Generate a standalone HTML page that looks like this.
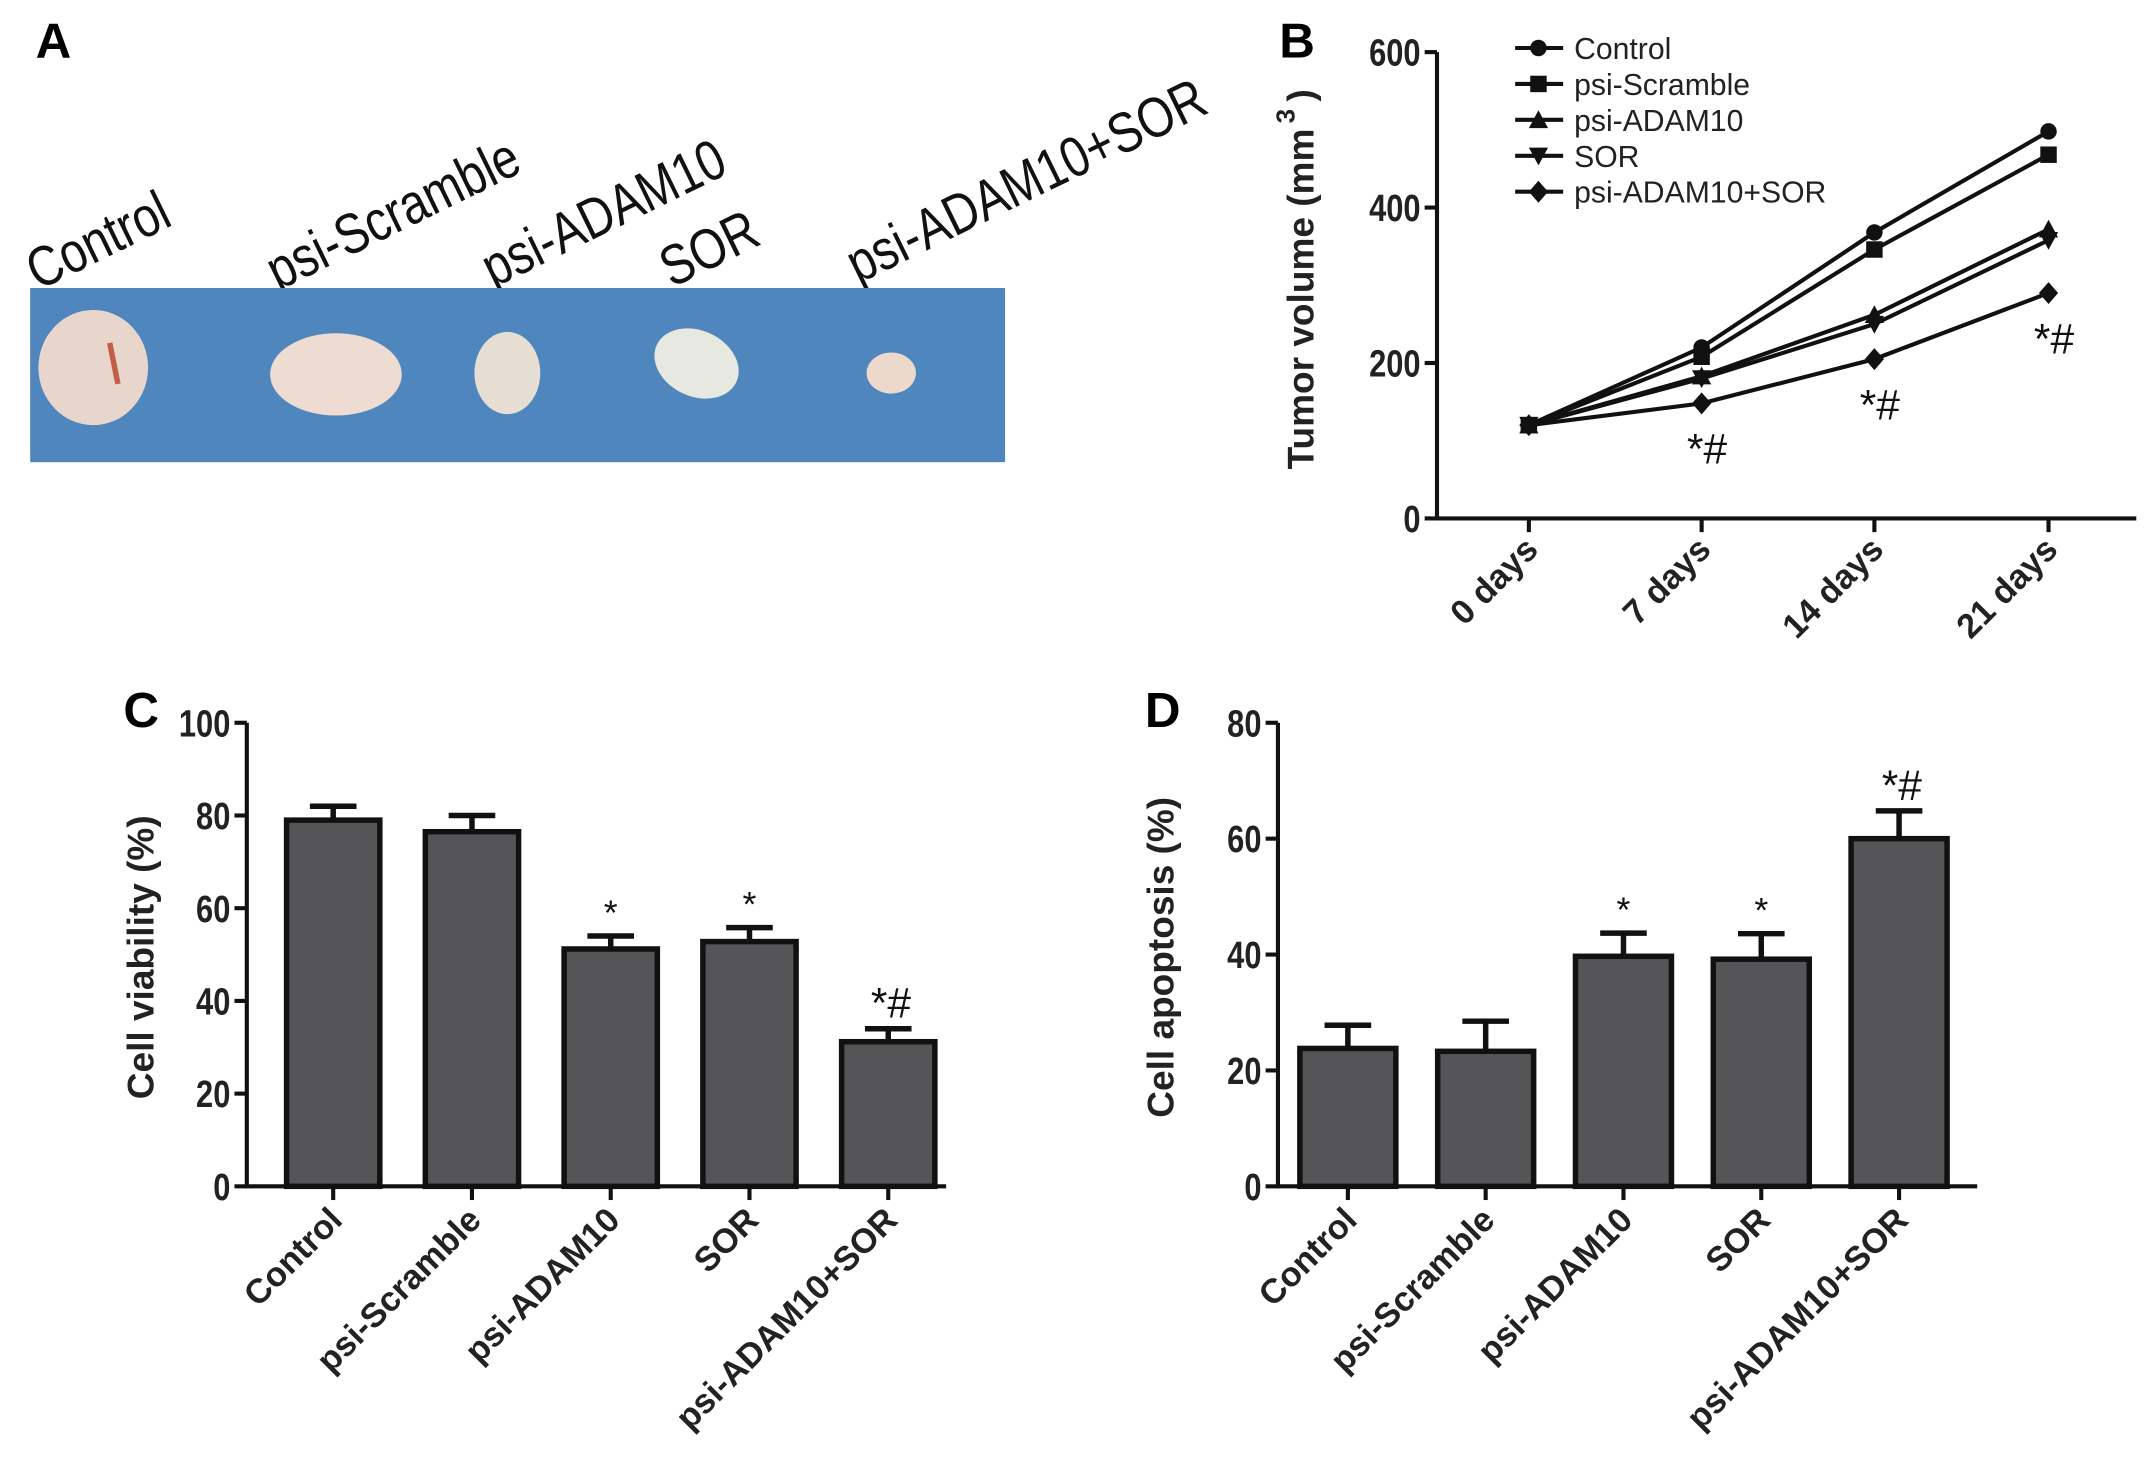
<!DOCTYPE html>
<html><head><meta charset="utf-8">
<style>
html,body{margin:0;padding:0;background:#fff;}
svg{display:block;font-family:"Liberation Sans",Arial,sans-serif;}
</style></head>
<body>
<svg id="fig" width="2150" height="1462" viewBox="0 0 1568 1066" preserveAspectRatio="none" xmlns="http://www.w3.org/2000/svg">
  <g>
    <text x="26" y="42" font-size="36" font-weight="bold">A</text>
    <g font-size="36" fill="#111">
      <text transform="translate(28,212) rotate(-26) scale(0.95,1.15)">Control</text>
      <text transform="translate(203,212) rotate(-26) scale(0.95,1.15)">psi-Scramble</text>
      <text transform="translate(360,210) rotate(-26) scale(0.95,1.15)">psi-ADAM10</text>
      <text transform="translate(490,210) rotate(-26) scale(0.95,1.15)">SOR</text>
      <text transform="translate(626,207) rotate(-26) scale(0.95,1.15)">psi-ADAM10+SOR</text>
    </g>
    <g>
      <rect x="22" y="210" width="711" height="127" fill="#4f86bd"/>
      <ellipse cx="68" cy="268" rx="40" ry="42" fill="#e8d6cc"/>
      <path d="M80 250 L86 280" stroke="#c0604a" stroke-width="4"/>
      <ellipse cx="245" cy="273" rx="48" ry="30" fill="#eedcd2"/>
      <ellipse cx="370" cy="272" rx="24" ry="30" fill="#e6ddd3"/>
      <ellipse cx="508" cy="265" rx="32" ry="24" transform="rotate(25 508 265)" fill="#e7e8e0"/>
      <ellipse cx="650" cy="272" rx="18" ry="15" fill="#ecd9cc"/>
    </g>
  </g>
  <g id="panelB"></g>
  <g id="panelC"></g>
  <g id="panelD"></g>
</svg>
<script>
// ---- Panel B data ----
const bDays = ["0 days","7 days","14 days","21 days"];
const bTicks = [0,200,400,600];
const bControl = [120,220,368,498];
const bScramble = [120,208,346,468];
const bAdam10 = [120,183,262,372];
const bSor = [120,180,250,358];
const bCombo = [120,148,205,290];
const bSeriesNames = ["Control","psi-Scramble","psi-ADAM10","SOR","psi-ADAM10+SOR"];
// ---- Panel C data ----
const cGroups = ["Control","psi-Scramble","psi-ADAM10","SOR","psi-ADAM10+SOR"];
const cValues = [79,76.5,51.2,52.8,31.2];
const cErrors = [3,3.5,2.8,3,2.8];
const cMarks = ["","","*","*","*#"];
const cTicks = [0,20,40,60,80,100];
// ---- Panel D data ----
const dGroups = ["Control","psi-Scramble","psi-ADAM10","SOR","psi-ADAM10+SOR"];
const dValues = [23.8,23.3,39.7,39.2,60];
const dErrors = [4,5.2,4,4.4,4.8];
const dMarks = ["","","*","*","*#"];
const dTicks = [0,20,40,60,80];

const NS="http://www.w3.org/2000/svg";
function mk(parent,tag,attrs,text){const e=document.createElementNS(NS,tag);for(const k in attrs)e.setAttribute(k,attrs[k]);if(text!==undefined)e.textContent=text;parent.appendChild(e);return e;}

(function(){
  const g=document.getElementById('panelB');
  const x0=1048,x1=1558,yTop=38,yBot=378,max=600;
  const xs=[1115,1241,1367,1494];
  const X=i=>xs[i]; const Y=v=>yBot-(v/max)*(yBot-yTop);
  let t=mk(g,'text',{x:933,y:42,'font-size':36,'font-weight':'bold'},'B');
  
  
  let ax=mk(g,'path',{d:`M${x0} ${yTop} V${yBot} H${x1}`,stroke:'#111','stroke-width':3,fill:'none'});
  
  
  bTicks.forEach(v=>{
    mk(g,'line',{x1:x0-9,x2:x0,y1:Y(v),y2:Y(v),stroke:'#111','stroke-width':3});
    const tl=mk(g,'text',{x:x0-12,y:Y(v)+9,'font-size':25,'font-weight':'bold','text-anchor':'end',fill:'#222',transform:`translate(${x0-12},${Y(v)}) scale(0.9,1.1) translate(${-(x0-12)},${-Y(v)})`},v);
    
    
  });
  bDays.forEach((d,i)=>{
    mk(g,'line',{x1:X(i),x2:X(i),y1:yBot,y2:yBot+10,stroke:'#111','stroke-width':3});
    const tl=mk(g,'text',{transform:`translate(${X(i)+8},${yBot+24}) rotate(-45)`,'font-size':25,'font-weight':'bold','text-anchor':'end',fill:'#222'},d);
    
    
  });
  const yl=mk(g,'text',{transform:'translate(958,218) rotate(-90)','font-size':27,'font-weight':'bold','text-anchor':'middle',fill:'#222'},'Tumor volume (mm ');
  
  
  const ys=mk(g,'text',{transform:'translate(944,90) rotate(-90)','font-size':19,'font-weight':'bold',fill:'#222'},'3');
  
  
  const yp=mk(g,'text',{transform:'translate(958,74) rotate(-90)','font-size':27,'font-weight':'bold',fill:'#222'},')');
  
  
  const series=[bControl,bScramble,bAdam10,bSor,bCombo];
  const shapes=['circle','square','tri','tridown','diamond'];
  function marker(p,shape,cx,cy,r){
    if(shape==='circle') return mk(p,'circle',{cx,cy,r:r,fill:'#111'});
    if(shape==='square') return mk(p,'rect',{x:cx-r,y:cy-r,width:2*r,height:2*r,fill:'#111'});
    if(shape==='tri') return mk(p,'path',{d:`M${cx} ${cy-r-1} L${cx+r+1} ${cy+r} L${cx-r-1} ${cy+r}Z`,fill:'#111'});
    if(shape==='tridown') return mk(p,'path',{d:`M${cx} ${cy+r+1} L${cx+r+1} ${cy-r} L${cx-r-1} ${cy-r}Z`,fill:'#111'});
    return mk(p,'path',{d:`M${cx} ${cy-r-2} L${cx+r+1} ${cy} L${cx} ${cy+r+2} L${cx-r-1} ${cy}Z`,fill:'#111'});
  }
  series.forEach((s,si)=>{
    const sg=mk(g,'g',{});
    
    
    mk(sg,'polyline',{points:s.map((v,i)=>X(i)+','+Y(v)).join(' '),fill:'none',stroke:'#111','stroke-width':3});
    s.forEach((v,i)=>{const m=marker(sg,shapes[si],X(i),Y(v),6);
      
      });
  });
  [1,2,3].forEach(i=>{
    const st=mk(g,'text',{x:X(i)+4,y:Y(bCombo[i])+44,'font-size':31,'text-anchor':'middle',fill:'#111'},'*#');
    
    
  });
  bSeriesNames.forEach((n,i)=>{
    const ly=35+i*26.2;
    const lg=mk(g,'g',{});
    
    
    mk(lg,'line',{x1:1105,x2:1140,y1:ly,y2:ly,stroke:'#111','stroke-width':3});
    marker(lg,shapes[i],1122,ly,6);
    mk(lg,'text',{x:1148,y:ly+8,'font-size':22,fill:'#222'},n);
  });
})();

function barPanel(gid,letter,lx,x0,x1,yTop,yBot,max,ticks,groups,values,errors,marks,centers,bw,title,titleX,prefix){
  const g=document.getElementById(gid);
  const Y=v=>yBot-(v/max)*(yBot-yTop);
  const X=i=>centers[0]+i*(centers[1]-centers[0]);
  let t=mk(g,'text',{x:lx,y:530,'font-size':36,'font-weight':'bold'},letter);
  
  
  ticks.forEach(v=>{
    mk(g,'line',{x1:x0-9,x2:x0,y1:Y(v),y2:Y(v),stroke:'#111','stroke-width':3});
    const tl=mk(g,'text',{x:x0-12,y:Y(v)+9,'font-size':25,'font-weight':'bold','text-anchor':'end',fill:'#222',transform:`translate(${x0-12},${Y(v)}) scale(0.9,1.1) translate(${-(x0-12)},${-Y(v)})`},v);
    
    
  });
  values.forEach((v,i)=>{
    const cx=X(i);
    const bg=mk(g,'g',{});
    
    
    const top=Y(v+errors[i]);
    mk(bg,'line',{x1:cx,x2:cx,y1:Y(v),y2:top,stroke:'#111','stroke-width':4});
    mk(bg,'line',{x1:cx-17,x2:cx+17,y1:top,y2:top,stroke:'#111','stroke-width':4});
    mk(bg,'rect',{x:cx-bw/2,y:Y(v),width:bw,height:yBot-Y(v),fill:'#555558',stroke:'#111','stroke-width':4});
    if(marks[i]){
      const m=mk(g,'text',{x:cx+(marks[i].length>1?2:0),y:top-8,'font-size':marks[i].length>1?31:26,'text-anchor':'middle',fill:'#111'},marks[i]);
      
      
    }
    mk(g,'line',{x1:cx,x2:cx,y1:yBot,y2:yBot+10,stroke:'#111','stroke-width':3});
    const tl=mk(g,'text',{transform:`translate(${cx+8},${yBot+26}) rotate(-45)`,'font-size':25,'font-weight':'bold','text-anchor':'end',fill:'#222'},groups[i]);
    
    
  });
  const ax=mk(g,'path',{d:`M${x0} ${yTop} V${yBot} H${x1}`,stroke:'#111','stroke-width':3,fill:'none'});
  
  
  const yl=mk(g,'text',{transform:`translate(${titleX},${(yTop+yBot)/2+2}) rotate(-90)`,'font-size':27,'font-weight':'bold','text-anchor':'middle',fill:'#222'},title);
  
  
}
barPanel('panelC','C',90,180,690,527,865,100,cTicks,cGroups,cValues,cErrors,cMarks,[243,344.2],68,'Cell viability (%)',112,'c');
barPanel('panelD','D',835,932,1442,527,865,80,dTicks,dGroups,dValues,dErrors,dMarks,[983,1083.5],70,'Cell apoptosis (%)',856,'d');
</script>
</body></html>
